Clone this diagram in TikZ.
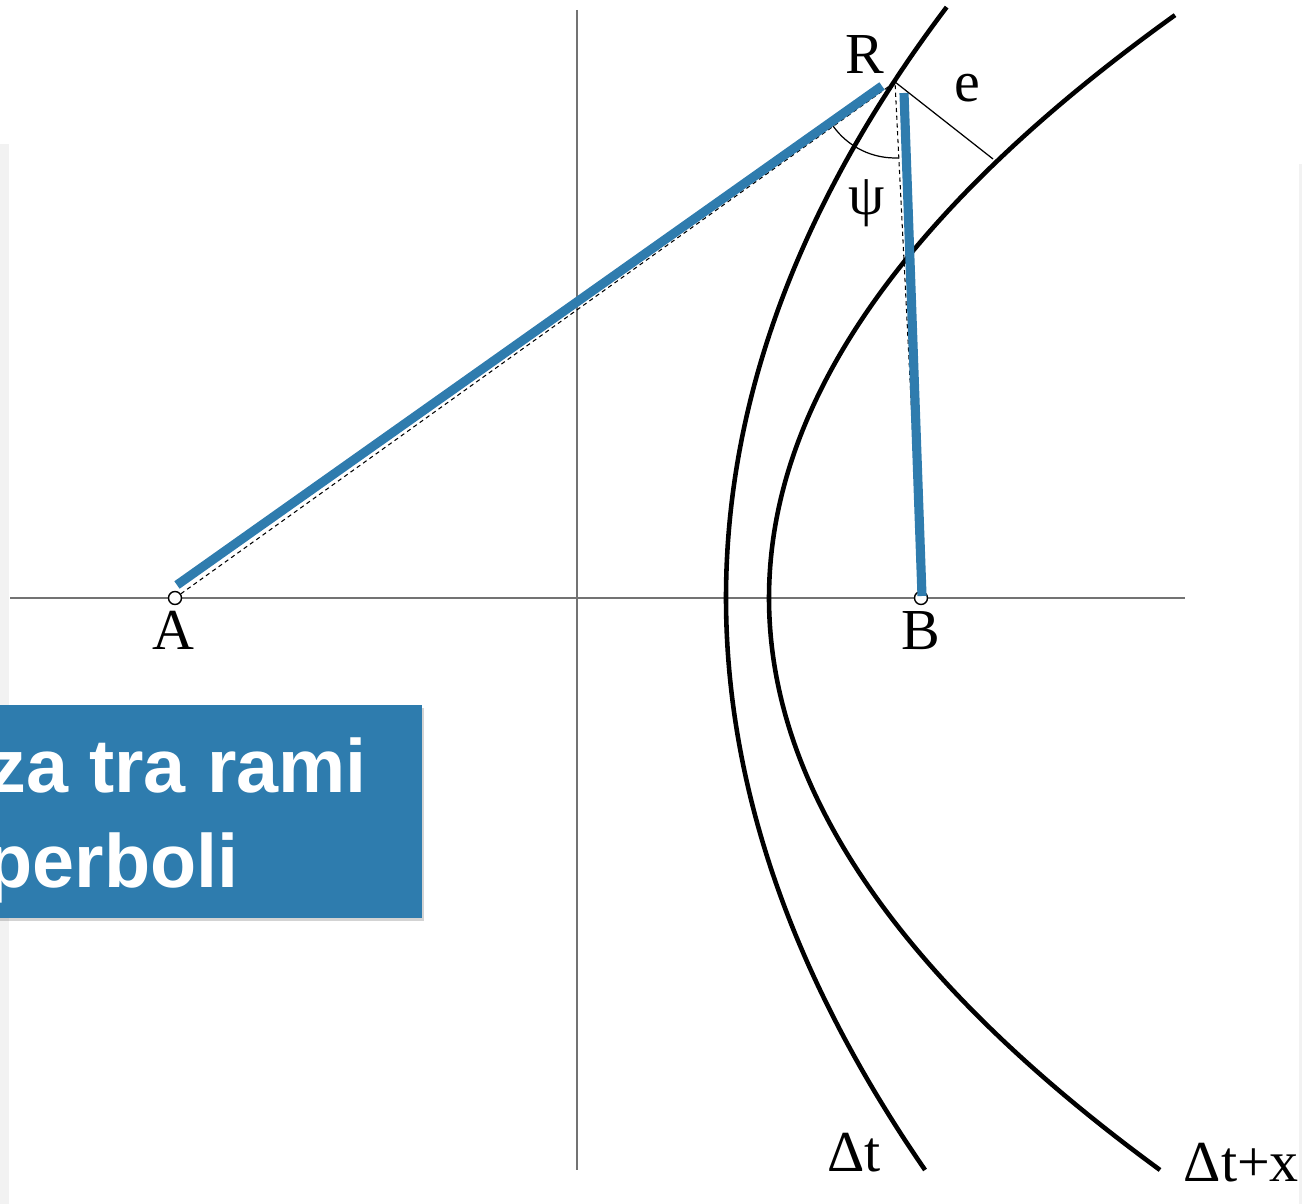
\documentclass[tikz,border=0pt]{standalone}
\usepackage{fontspec}
\setmainfont{Liberation Serif}
\newfontfamily\boxfont{Liberation Sans}
\usetikzlibrary{shadows}
\definecolor{lineblue}{RGB}{47,124,174}
\definecolor{boxblue}{RGB}{46,124,174}
\tikzset{
  axis/.style={draw=black!55, line width=0.5pt},
  branch/.style={line width=1.3pt},
  guide/.style={line width=0.3pt, dash pattern=on 1.2pt off 1pt},
  bluebar/.style={lineblue, line width=2.6pt},
  thinline/.style={line width=0.35pt},
  focus/.style={circle, draw, line width=0.4pt, fill=white, inner sep=0pt, minimum size=0.13cm},
  lbl/.style={font=\fontsize{16.5}{19}\selectfont, inner sep=0pt},
  boxtext/.style={font=\boxfont\bfseries\fontsize{21.5}{25}\selectfont, text=white, inner sep=0pt}
}

\begin{document}
\begin{tikzpicture}
\useasboundingbox (0,0) rectangle (13.02,12.04);
\fill[black!5] (0,0) rectangle (0.09,10.6);
\fill[black!5] (12.99,0) rectangle (13.02,10.4);
\coordinate (xl) at (0.10,6.06);
\coordinate (xr) at (11.85,6.06);
\coordinate (yt) at (5.77,11.94);
\coordinate (yb) at (5.77,0.34);
\draw[axis] (xl) -- (xr);
\draw[axis] (yt) -- (yb);
\draw[branch] plot[domain=-5.72:5.91, samples=90, smooth] ({7.26+(0.062+0.0012*\x/5.9)*\x*\x}, {6.06+\x});
\draw[branch] plot[domain=-5.72:5.83, samples=90, smooth] ({7.69+0.1195*\x*\x}, {6.06+\x});

\node[focus] (A) at (1.75,6.06) {};
\node[focus] (B) at (9.21,6.06) {};
\coordinate (R) at (8.95,11.22);
\coordinate (E) at (9.93,10.45);
\draw[guide] (A) -- (R) -- (B);

\coordinate (a1) at (1.77,6.19);
\coordinate (r1) at (8.82,11.18);
\coordinate (r2) at (9.04,11.11);
\coordinate (b1) at (9.22,6.08);
\draw[bluebar] (a1) -- (r1);
\draw[bluebar] (r2) -- (b1);
\draw[thinline] (R) ++(215.6:0.76) arc[start angle=215.6, end angle=272.9, radius=0.76];
\draw[thinline] (R) -- (E);

\node[lbl, anchor=base] (lR) at (8.65,11.30) {R};
\node[lbl, anchor=base] (le) at (9.67,11.02) {e};
\node[lbl] (lpsi) at (8.67,10.01) {ψ};
\node[lbl, anchor=base] (lA) at (1.73,5.54) {A};
\node[lbl, anchor=base] (lB) at (9.21,5.54) {B};
\node[lbl, anchor=base] (ldt) at (8.54,0.32) {Δt};
\node[lbl, anchor=base west] (ldtx) at (11.83,0.22) {Δt+x};

\fill[boxblue, drop shadow={shadow xshift=0.6pt, shadow yshift=-0.8pt, opacity=0.35}] (-0.2,2.86) rectangle (4.22,4.99);
\node[boxtext, anchor=base west] (t1) at (-0.12,4.11) {za tra rami};
\node[boxtext, anchor=base west] (t2) at (-0.14,3.16) {perboli};
\end{tikzpicture}
\end{document}
